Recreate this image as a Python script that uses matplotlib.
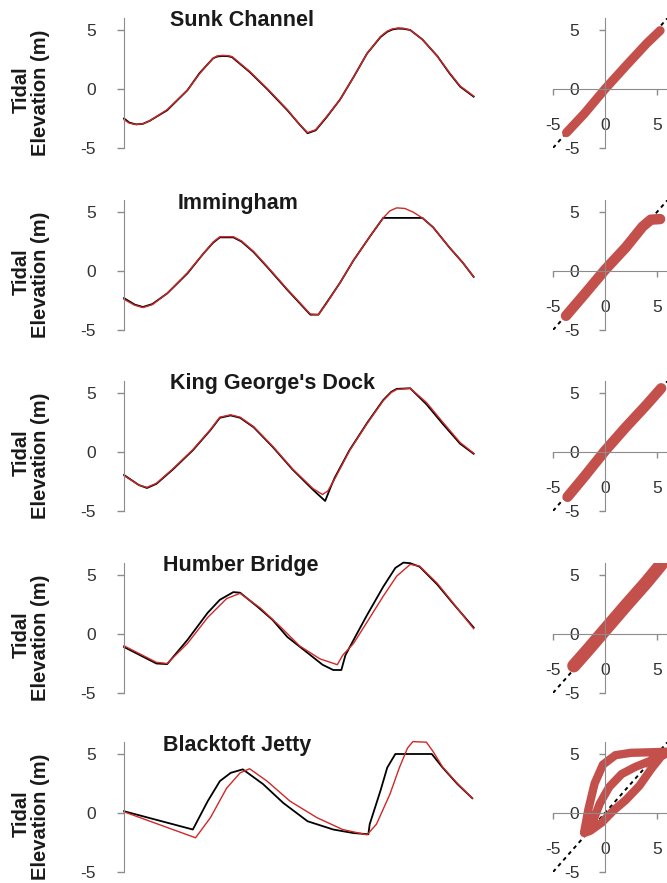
import matplotlib
matplotlib.use("Agg")
import matplotlib.pyplot as plt

plt.rcParams['font.family'] = ['Liberation Sans', 'DejaVu Sans']
plt.rcParams['axes.unicode_minus'] = False

stations = ["Sunk Channel", "Immingham", "King George's Dock", "Humber Bridge", "Blacktoft Jetty"]

# time series: hours, tidal elevation (m); observed = black, modelled = red
sunk_obs_t = [0.0, 0.4, 0.9, 1.4, 1.9, 3.2, 4.7, 5.6, 6.6, 6.9, 7.3, 7.7, 8.0, 9.3, 10.6, 12.1, 13.0, 13.6, 14.2, 15.0, 16.0, 17.0, 18.0, 19.0, 19.5, 19.9, 20.3, 20.7, 21.2, 22.1, 23.2, 24.1, 24.9, 25.9]
sunk_obs = [-2.5, -2.85, -3.0, -2.95, -2.7, -1.8, -0.1, 1.35, 2.6, 2.75, 2.8, 2.78, 2.7, 1.45, 0.0, -1.8, -3.0, -3.75, -3.5, -2.4, -0.9, 1.0, 3.0, 4.4, 4.85, 5.05, 5.12, 5.1, 5.0, 4.2, 2.8, 1.35, 0.2, -0.65]
sunk_mod_t = sunk_obs_t
sunk_mod = [-2.6, -2.9, -3.0, -2.95, -2.7, -1.75, -0.1, 1.3, 2.6, 2.8, 2.85, 2.82, 2.75, 1.5, 0.05, -1.75, -3.0, -3.7, -3.45, -2.35, -0.9, 1.0, 3.0, 4.45, 4.9, 5.1, 5.17, 5.15, 5.0, 4.2, 2.8, 1.4, 0.25, -0.6]

imm_obs_t = [0.0, 0.8, 1.4, 2.1, 3.2, 4.7, 5.9, 6.6, 7.1, 8.1, 8.7, 9.6, 10.6, 12.1, 13.8, 14.4, 15.0, 16.0, 17.0, 18.2, 19.2, 22.1, 22.9, 24.1, 25.1, 25.9]
imm_obs = [-2.3, -2.85, -3.05, -2.8, -1.9, -0.2, 1.5, 2.4, 2.85, 2.85, 2.5, 1.6, 0.35, -1.6, -3.7, -3.7, -2.7, -1.0, 0.9, 2.9, 4.5, 4.5, 3.7, 2.0, 0.7, -0.5]
imm_mod_t = [0.0, 0.8, 1.4, 2.1, 3.2, 4.7, 5.9, 6.6, 7.1, 8.1, 8.7, 9.6, 10.6, 12.1, 13.8, 14.4, 15.0, 16.0, 17.0, 18.2, 19.2, 19.7, 20.2, 20.8, 21.4, 22.1, 22.9, 24.1, 25.1, 25.9]
imm_mod = [-2.4, -2.9, -3.1, -2.85, -1.9, -0.15, 1.5, 2.45, 2.9, 2.9, 2.55, 1.65, 0.4, -1.55, -3.65, -3.7, -2.75, -1.0, 0.9, 2.9, 4.5, 5.1, 5.35, 5.3, 5.0, 4.5, 3.7, 2.0, 0.7, -0.5]

kgd_obs_t = [0.0, 1.1, 1.7, 2.4, 3.6, 5.1, 6.4, 7.1, 7.9, 8.6, 9.6, 11.0, 12.5, 14.0, 14.9, 15.3, 15.6, 16.7, 18.0, 19.2, 19.8, 20.2, 21.2, 22.4, 23.6, 24.9, 25.9]
kgd_obs = [-1.95, -2.8, -3.05, -2.7, -1.5, 0.15, 1.85, 2.9, 3.1, 2.9, 2.1, 0.45, -1.5, -3.2, -4.15, -3.0, -2.2, 0.15, 2.45, 4.4, 5.1, 5.35, 5.4, 4.05, 2.4, 0.7, -0.15]
kgd_mod_t = [0.0, 1.1, 1.7, 2.4, 3.6, 5.1, 6.4, 7.1, 7.9, 8.6, 9.6, 11.0, 12.5, 14.0, 14.7, 15.1, 15.6, 16.7, 18.0, 19.2, 19.8, 20.2, 21.2, 22.4, 23.6, 24.9, 25.9]
kgd_mod = [-2.0, -2.8, -3.0, -2.65, -1.45, 0.2, 1.9, 2.95, 3.15, 2.95, 2.15, 0.5, -1.45, -3.1, -3.6, -3.3, -2.3, 0.1, 2.4, 4.35, 5.05, 5.3, 5.4, 4.2, 2.55, 0.8, -0.1]

hb_obs_t = [0.0, 2.4, 3.2, 4.7, 6.2, 7.1, 8.1, 8.6, 9.9, 11.0, 12.1, 13.6, 14.7, 15.5, 16.1, 16.4, 17.1, 18.0, 19.2, 20.1, 20.7, 21.2, 21.9, 23.2, 24.4, 25.9]
hb_obs = [-1.1, -2.5, -2.55, -0.5, 1.8, 2.9, 3.55, 3.5, 2.3, 1.2, -0.25, -1.6, -2.6, -3.05, -3.05, -1.8, -0.3, 1.6, 4.0, 5.6, 6.05, 6.0, 5.7, 4.2, 2.55, 0.55]
hb_mod_t = [0.0, 2.4, 3.2, 4.7, 6.2, 7.6, 8.6, 10.1, 11.6, 13.0, 14.5, 15.8, 16.2, 17.0, 18.0, 19.2, 20.2, 21.2, 21.9, 23.2, 24.4, 25.9]
hb_mod = [-1.0, -2.4, -2.5, -0.8, 1.4, 3.0, 3.45, 2.2, 0.6, -1.0, -2.1, -2.6, -1.8, -0.8, 1.0, 3.2, 4.9, 5.9, 5.75, 4.3, 2.6, 0.45]

bj_obs_t = [0.0, 5.1, 6.2, 7.1, 7.9, 8.8, 10.3, 11.8, 13.6, 15.5, 17.0, 18.1, 18.2, 19.0, 19.5, 20.1, 22.8, 23.6, 24.7, 25.8]
bj_obs = [0.15, -1.4, 1.0, 2.7, 3.4, 3.7, 2.45, 0.85, -0.7, -1.4, -1.7, -1.8, -0.95, 1.9, 3.85, 5.0, 5.0, 3.85, 2.45, 1.25]
bj_mod_t = [0.0, 5.3, 6.4, 7.6, 8.6, 9.3, 10.6, 12.3, 14.3, 16.2, 18.0, 18.7, 19.7, 20.4, 21.0, 21.4, 22.4, 22.9, 23.6, 24.7, 25.8]
bj_mod = [0.1, -2.1, -0.4, 2.1, 3.4, 3.75, 2.7, 1.0, -0.4, -1.4, -1.85, -0.95, 1.6, 3.85, 5.5, 6.05, 6.0, 5.2, 3.9, 2.5, 1.25]

# scatter: modelled (x) vs observed (y), traced along the point cloud
sunk_sc_mod = [-3.7, -2.0, 0.0, 2.0, 4.0, 5.3]
sunk_sc_obs = [-3.7, -2.1, 0.0, 1.95, 3.85, 4.95]
imm_sc_mod = [-3.75, -2.0, 0.0, 2.0, 3.6, 4.4, 5.3]
imm_sc_obs = [-3.8, -2.0, 0.1, 2.0, 3.75, 4.35, 4.4]
kgd_sc_mod = [-3.6, -2.0, 0.0, 2.0, 4.0, 5.4]
kgd_sc_obs = [-3.8, -2.1, 0.1, 2.1, 4.0, 5.4]
hb_sc_mod = [-3.0, -1.5, 0.0, 2.0, 4.0, 5.4]
hb_sc_obs = [-2.7, -1.2, 0.35, 2.4, 4.4, 5.9]
bj_sc_mod = [-2.0, -1.6, -1.0, -0.2, 1.0, 2.5, 4.5, 6.2, 5.4, 4.5, 3.3, 2.0, 0.8, -0.3, -1.4, -2.0,
             -1.2, -0.5, 0.4, 1.6, 2.9, 4.3, 5.4]
bj_sc_obs = [-1.6, 0.3, 2.5, 4.1, 4.9, 5.1, 5.15, 5.2, 4.8, 3.8, 2.3, 1.1, 0.2, -0.8, -1.5, -1.7,
             -0.8, 0.8, 2.2, 3.3, 3.9, 4.4, 5.0]

series = [(sunk_obs_t, sunk_obs, sunk_mod_t, sunk_mod),
          (imm_obs_t, imm_obs, imm_mod_t, imm_mod),
          (kgd_obs_t, kgd_obs, kgd_mod_t, kgd_mod),
          (hb_obs_t, hb_obs, hb_mod_t, hb_mod),
          (bj_obs_t, bj_obs, bj_mod_t, bj_mod)]
scatters = [(sunk_sc_mod, sunk_sc_obs), (imm_sc_mod, imm_sc_obs), (kgd_sc_mod, kgd_sc_obs),
            (hb_sc_mod, hb_sc_obs), (bj_sc_mod, bj_sc_obs)]

# layout in pixels
W, H = 667, 883
zero_px = [89, 271, 452, 634, 813]
title_px = [170, 178, 170, 163, 163]
band_w = [6.5, 7.5, 7.5, 9.5, 6.0]
unit_y = 11.8
grey = '#8c8c8c'
tick_col = '#333333'
red_sc = '#c4504c'

fig = plt.figure(figsize=(W / 100, H / 100), dpi=100)

for i in range(5):
    top = zero_px[i] - 6 * unit_y
    bot = zero_px[i] + 5 * unit_y
    h = (bot - top) / H
    b = 1 - bot / H

    # time series panel
    ax = fig.add_axes([124 / W, b, 351 / W, h])
    ot, ov, mt, mv = series[i]
    ax.plot(ot, ov, color='black', lw=1.3, clip_on=False, solid_joinstyle='round')
    ax.plot(mt, mv, color='#d02828', lw=1.0, clip_on=False, solid_joinstyle='round')
    ax.set_xlim(0, 26)
    ax.set_ylim(-5, 6)
    ax.set_yticks([-5, 0, 5])
    ax.set_xticks([])
    for s in ['top', 'right', 'bottom']:
        ax.spines[s].set_visible(False)
    ax.spines['left'].set_color(grey)
    ax.tick_params(axis='y', length=5, width=1, color=grey, pad=15, labelsize=12.5, labelcolor=tick_col)
    ax.patch.set_alpha(0)

    fig.text(title_px[i] / W, 1 - (zero_px[i] - 68) / H, stations[i], fontsize=15.5,
             fontweight='bold', ha='left', va='center', color='#1a1a1a')
    fig.text(21 / W, 1 - (zero_px[i] + 1) / H, "Tidal", fontsize=14.5, fontweight='bold',
             rotation=90, ha='center', va='center', color='#1a1a1a')
    fig.text(40 / W, 1 - (zero_px[i] + 4) / H, "Elevation (m)", fontsize=14.5, fontweight='bold',
             rotation=90, ha='center', va='center', color='#1a1a1a')

    # scatter panel (runs off the right edge)
    sx = fig.add_axes([553 / W, b, 124.8 / W, h])
    sx.plot([-5, 7], [-5, 7], color='black', lw=1.4, linestyle=(0, (2, 2)), zorder=1)
    mx, oy = scatters[i]
    sx.plot(mx, oy, color=red_sc, lw=band_w[i], solid_capstyle='round',
            solid_joinstyle='round', zorder=2)
    sx.set_xlim(-5, 7)
    sx.set_ylim(-5, 6)
    sx.set_xticks([-5, 0, 5])
    sx.set_yticks([-5, 0, 5])
    sx.spines['left'].set_position(('data', 0))
    sx.spines['bottom'].set_position(('data', 0))
    sx.spines['top'].set_visible(False)
    sx.spines['right'].set_visible(False)
    sx.spines['left'].set_color(grey)
    sx.spines['bottom'].set_color(grey)
    sx.tick_params(axis='y', length=4.5, width=1, color=grey, pad=14, labelsize=12.5, labelcolor=tick_col)
    sx.tick_params(axis='x', length=4, width=1, color=grey, pad=17, labelsize=12.5, labelcolor=tick_col)
    sx.patch.set_alpha(0)

fig.savefig('out.png', dpi=100, facecolor='white')
